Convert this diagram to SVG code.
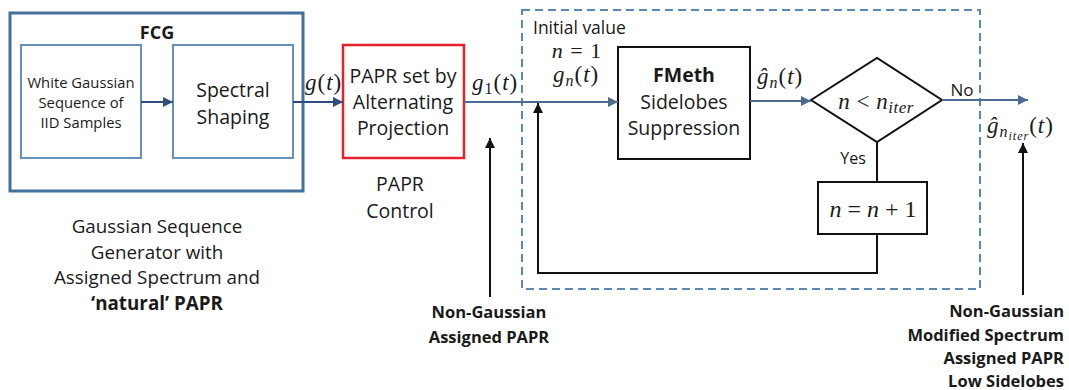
<svg xmlns="http://www.w3.org/2000/svg" width="1069" height="390" viewBox="0 0 1069 390">
<defs>
<style>
.t{font-family:"Open Sans","Liberation Sans",sans-serif;fill:#1a1a1a}
.b{font-weight:bold}
.m{font-family:"Liberation Serif","DejaVu Serif",serif;font-style:italic;fill:#1a1a1a}
.mu{font-style:normal}
.blue{fill:none;stroke:#41719c;stroke-width:3}
.blue2{fill:#fff;stroke:#6790bb;stroke-width:2}
.blk{fill:#fff;stroke:#111;stroke-width:2}
.ln{fill:none;stroke-width:2}
</style>
<marker id="an" viewBox="0 0 10 10" refX="10" refY="5" markerWidth="11" markerHeight="10" markerUnits="userSpaceOnUse" orient="auto"><path d="M0,0L10,5L0,10z" fill="#2f4c7c"/></marker>
<marker id="as" viewBox="0 0 10 10" refX="10" refY="5" markerWidth="11" markerHeight="10" markerUnits="userSpaceOnUse" orient="auto"><path d="M0,0L10,5L0,10z" fill="#4d6a8f"/></marker>
<marker id="ab" viewBox="0 0 10 10" refX="10" refY="5" markerWidth="11" markerHeight="10" markerUnits="userSpaceOnUse" orient="auto"><path d="M0,0L10,5L0,10z" fill="#111"/></marker>
</defs>
<rect width="1069" height="390" fill="#fff"/>

<g id="loop">
<rect x="522" y="10" width="458" height="279" fill="none" stroke="#5b87b3" stroke-width="2" stroke-dasharray="8,5"/>
<text class="t" x="533" y="34" font-size="17.5">Initial value</text>
<text class="m" x="577" y="58" font-size="22" text-anchor="middle" letter-spacing="1">n <tspan class="mu">= 1</tspan></text>
<text class="m" x="553" y="82" font-size="23" letter-spacing="1">g<tspan font-size="16" dy="4">n</tspan><tspan class="mu" dy="-4">(</tspan>t<tspan class="mu">)</tspan></text>
</g>

<g id="fcg">
<rect class="blue" x="10" y="13" width="293" height="178"/>
<text class="t b" x="157" y="39" font-size="18" text-anchor="middle">FCG</text>
</g>

<g id="white">
<rect class="blue2" x="21" y="45" width="120" height="113"/>
<text class="t" x="81" y="88" font-size="14.8" text-anchor="middle">White Gaussian</text>
<text class="t" x="81" y="108" font-size="14.8" text-anchor="middle">Sequence of</text>
<text class="t" x="81" y="128" font-size="14.8" text-anchor="middle">IID Samples</text>
</g>

<g id="shaping">
<rect class="blue2" x="173" y="45" width="120" height="113"/>
<text class="t" x="233" y="97" font-size="19.5" text-anchor="middle">Spectral</text>
<text class="t" x="233" y="124" font-size="19.5" text-anchor="middle">Shaping</text>
</g>

<g id="papr">
<rect x="343" y="45" width="121" height="113" fill="#fff" stroke="#e8202a" stroke-width="2.5"/>
<text class="t" x="403" y="83" font-size="19.5" text-anchor="middle">PAPR set by</text>
<text class="t" x="403" y="109" font-size="19.5" text-anchor="middle">Alternating</text>
<text class="t" x="403" y="135" font-size="19.5" text-anchor="middle">Projection</text>
<text class="t" x="400" y="191" font-size="19.5" text-anchor="middle">PAPR</text>
<text class="t" x="400" y="218" font-size="19.5" text-anchor="middle">Control</text>
</g>

<g id="fmeth">
<rect class="blk" x="618" y="47" width="132" height="112"/>
<text class="t b" x="684" y="82" font-size="19.5" text-anchor="middle">FMeth</text>
<text class="t" x="684" y="109" font-size="19.5" text-anchor="middle">Sidelobes</text>
<text class="t" x="684" y="135" font-size="19.5" text-anchor="middle">Suppression</text>
</g>

<g id="decision">
<polygon class="blk" points="811,100 877,58 942,100 877,142"/>
<text class="m" x="876" y="109" font-size="23" text-anchor="middle" letter-spacing="0.5">n <tspan class="mu">&lt;</tspan> n<tspan font-size="17" dy="4">iter</tspan></text>
<text class="t" x="962" y="96" font-size="17" text-anchor="middle">No</text>
<text class="t" x="853" y="164" font-size="16" text-anchor="middle">Yes</text>
</g>

<g id="incr">
<rect class="blk" x="818" y="182" width="109" height="52"/>
<text class="m" x="873" y="217" font-size="24" text-anchor="middle">n <tspan class="mu">= </tspan>n<tspan class="mu"> + 1</tspan></text>
</g>

<g id="connectors">
<line class="ln" x1="141" y1="102" x2="173" y2="102" stroke="#2f4c7c" marker-end="url(#an)"/>
<line class="ln" x1="293" y1="102" x2="343" y2="102" stroke="#2f4c7c" marker-end="url(#an)"/>
<line class="ln" x1="464" y1="102" x2="618" y2="102" stroke="#4d6a8f" marker-end="url(#as)"/>
<line class="ln" x1="750" y1="101" x2="811" y2="101" stroke="#4d6a8f" marker-end="url(#as)"/>
<line class="ln" x1="942" y1="100" x2="1028" y2="100" stroke="#4d6a8f" marker-end="url(#as)"/>
<line class="ln" x1="877" y1="142" x2="877" y2="182" stroke="#111"/>
<polyline class="ln" points="877,234 877,273 538,273 538,103" stroke="#111" marker-end="url(#ab)"/>
<line class="ln" x1="490" y1="297" x2="490" y2="138" stroke="#111" marker-end="url(#ab)"/>
<line class="ln" x1="1023" y1="295" x2="1023" y2="143" stroke="#111" marker-end="url(#ab)"/>
</g>

<g id="labels">
<text class="m" x="305" y="90" font-size="23" letter-spacing="1">g<tspan class="mu">(</tspan>t<tspan class="mu">)</tspan></text>
<text class="m" x="472" y="90" font-size="23" letter-spacing="1">g<tspan font-size="16" dy="4" class="mu">1</tspan><tspan class="mu" dy="-4">(</tspan>t<tspan class="mu">)</tspan></text>
<text class="m" x="757" y="84" font-size="23" letter-spacing="1">ĝ<tspan font-size="16" dy="4">n</tspan><tspan class="mu" dy="-4">(</tspan>t<tspan class="mu">)</tspan></text>
<text class="m" x="987" y="133" font-size="23" letter-spacing="1">ĝ<tspan font-size="16" dy="4">n</tspan><tspan font-size="12" dy="3">iter</tspan><tspan class="mu" dy="-7">(</tspan>t<tspan class="mu">)</tspan></text>
<text class="t" x="157" y="233" font-size="18.8" text-anchor="middle">Gaussian Sequence</text>
<text class="t" x="157" y="258.5" font-size="18.8" text-anchor="middle">Generator with</text>
<text class="t" x="157" y="284" font-size="18.8" text-anchor="middle">Assigned Spectrum and</text>
<text class="t b" x="157" y="309.5" font-size="18.8" text-anchor="middle">‘natural’ PAPR</text>
<text class="t b" x="489" y="318" font-size="16.5" text-anchor="middle">Non-Gaussian</text>
<text class="t b" x="489" y="343" font-size="16.5" text-anchor="middle">Assigned PAPR</text>
<text class="t b" x="1064" y="317" font-size="16.5" text-anchor="end">Non-Gaussian</text>
<text class="t b" x="1064" y="341" font-size="16.5" text-anchor="end">Modified Spectrum</text>
<text class="t b" x="1064" y="364" font-size="16.5" text-anchor="end">Assigned PAPR</text>
<text class="t b" x="1064" y="387" font-size="16.5" text-anchor="end">Low Sidelobes</text>
</g>
</svg>
